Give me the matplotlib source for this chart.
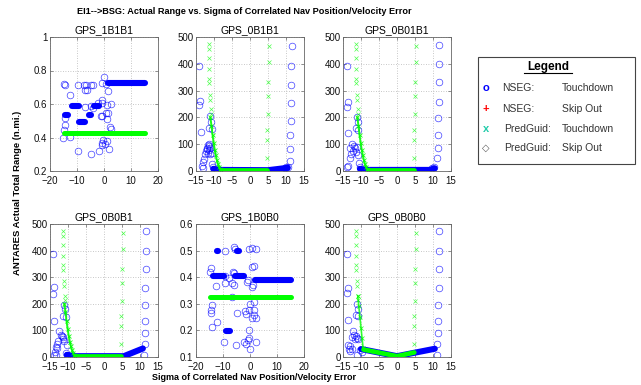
import numpy as np
import matplotlib
matplotlib.use("Agg")
import matplotlib.pyplot as plt
from matplotlib.patches import Rectangle
from matplotlib.lines import Line2D

plt.rcParams['font.family'] = ['Liberation Sans', 'DejaVu Sans']

W, H = 641, 385
BLUE = '#0000ff'
GREEN = '#00ff00'
EDGE = '#666666'

titles = ["GPS_1B1B1", "GPS_0B1B1", "GPS_0B01B1", "GPS_0B0B1", "GPS_1B0B0", "GPS_0B0B0"]

########## GPS_1B1B1 (normalised range)
p1_circ_x = [-14.9, -14.3, -7.3, -6.6, -4.9, -4.2, -9.6, -7.1, -6.3, 0.0, -0.6, 1.6, 0.9,
             -12.6, -15.2, -15.0, -14.6, -14.4, -12.5, -9.6, -5.0, -1.9, -0.25, 0.4, 1.25,
             -0.6, 1.9, 2.1, 2.6, -0.9, -0.6, 2.5, 1.25, 0.6, 1.5, -1.25, -0.6, -5.0, -6.9,
             1.0, -0.9, -4.0, -2.2]
p1_circ_y = [0.718, 0.716, 0.716, 0.716, 0.712, 0.712, 0.716, 0.684, 0.684, 0.764, 0.728, 0.68, 0.72,
             0.654, 0.40, 0.444, 0.474, 0.514, 0.404, 0.32, 0.30, 0.32, 0.384, 0.364, 0.38,
             0.354, 0.334, 0.46, 0.45, 0.624, 0.608, 0.60, 0.594, 0.544, 0.544, 0.53, 0.526, 0.588, 0.58,
             0.508, 0.368, 0.574, 0.604]
# dense runs: (sigma start, sigma end, range)
p1_blue_runs = [(1.5, 15.0, 0.724), (-11.7, -9.2, 0.586), (-3.6, -1.8, 0.586),
                (-9.3, -7.0, 0.49), (-14.3, -13.2, 0.534), (-5.6, -5.0, 0.534)]
p1_green_runs = [(-15.0, 15.0, 0.424)]

########## GPS_1B0B0 (normalised range)
p5_circ_x = [-14.5, -15.0, -12.7, -14.2, -14.5, -14.5, -14.2, -12.4, -9.3, -6.0, -5.5, -0.25, 0.85,
             2.2, -9.1, -9.1, -7.9, -6.7, -6.1, -6.7, -4.8, -9.45, -5.1, -2.4, -1.45, -0.6, -0.4,
             0.0, 2.2, -1.2, -0.6, 0.6, 1.5, 1.2, 0.85, 1.5, 2.4, 0.0, -0.25, 0.6, -1.8, -1.6,
             1.5, 1.5, -0.4, -6.4, -5.8]
p5_circ_y = [0.435, 0.42, 0.366, 0.294, 0.277, 0.265, 0.214, 0.23, 0.5, 0.515, 0.505, 0.505, 0.51,
             0.507, 0.406, 0.378, 0.397, 0.378, 0.37, 0.325, 0.265, 0.157, 0.144, 0.157, 0.15, 0.163, 0.172,
             0.131, 0.157, 0.382, 0.389, 0.44, 0.442, 0.372, 0.365, 0.258, 0.246, 0.3, 0.277, 0.246, 0.273, 0.262,
             0.306, 0.277, 0.2, 0.418, 0.415]
p5_blue_runs = [(2.0, 15.0, 0.391), (-13.7, -9.8, 0.405), (-5.6, -2.1, 0.405),
                (-8.8, -7.4, 0.199), (-12.3, -11.7, 0.5), (-4.8, -4.2, 0.5)]
p5_green_runs = [(-15.0, 15.0, 0.326)]

########## PredGuid columns shared by the four range panels
pred_left_x = [-11.5, -11.5, -11.4, -11.4, -11.3, -11.3, -11.1, -11.1, -10.9, -10.8]
pred_left_y = [473, 455, 422, 381, 345, 327, 284, 266, 230, 213]
pred_right_x = [5.2, 5.2, 5.1, 5.0, 4.9, 4.8, 4.8, 4.7]
pred_right_y = [465, 405, 331, 278, 212, 153, 116, 50]
pred_desc_x = [-11.0, -10.7, -10.4, -10.1, -9.8, -9.5, -9.2, -8.9, -8.6, -8.3, -8.0]
pred_desc_y = [200, 168, 135, 105, 80, 58, 40, 26, 15, 8, 5]
pred_flat_x = [-8.0, 4.8]
pred_flat_y = [5, 5]

########## GPS_0B1B1
p2_circ_x = [-14.07, -13.89, -14.07, -13.70, -13.43, -13.15, -12.96, -12.69, -12.5, -12.22, -12.04,
             -11.76, -11.48, -11.30, -11.85, -11.48, -11.11, -11.67, -11.11, -10.65, -11.11, -10.93,
             -11.30, -10.56, -10.65, -10.19,
             11.6, 11.5, 11.5, 11.4, 11.3, 11.2, 11.1, 11.0, 9.6, 10.1, 10.6]
p2_circ_y = [390, 262, 246, 146, 19, 11, 34, 46, 62, 75, 87, 96, 100, 94, 81, 79, 84, 66, 62, 66,
             204, 184, 159, 156, 27, 16,
             466, 391, 322, 252, 187, 133, 82, 38, 12, 14, 15]
p2_blue_x = [-10.2, -8.0, 5.0, 7.5, 10.5]
p2_blue_y = [8, 4, 3, 7, 12]

########## GPS_0B01B1
p3_circ_x = [-13.98, -13.7, -13.98, -13.5, -11.2, -10.9, -11.5, -10.7, -13.1, -12.4, -11.9, -11.7,
             -11.2, -12.1, -11.5, -12.8, -13.1, -13.5, -14.0, -10.6, -10.3, -10.7,
             11.7, 11.7, 11.6, 11.6, 11.5, 11.3, 11.3, 11.1, 9.8, 10.3]
p3_circ_y = [391, 259, 237, 140, 202, 184, 159, 154, 87, 100, 94, 84, 91, 75, 71, 62, 50, 19, 15,
             31, 16, 59,
             472, 400, 331, 259, 196, 134, 87, 50, 12, 14]
p3_blue_x = [-10.3, -8.0, 9.0, 10.5]
p3_blue_y = [8, 4, 4, 10]

########## GPS_0B0B1
p4_circ_x = [-14.1, -13.9, -14.3, -13.9, -11.1, -10.8, -11.5, -10.6, -12.4, -12.0, -11.8, -11.3,
             -11.5, -11.1, -12.7, -13.1, -13.3, -12.96, -13.6, -13.9, -13.3, -10.4, -10.6, -10.2,
             11.7, 11.7, 11.7, 11.5, 11.5, 11.3, 11.3, 11.3, 11.2]
p4_circ_y = [388, 265, 238, 134, 196, 179, 156, 150, 96, 84, 79, 75, 66, 62, 62, 50, 37, 34, 19,
             6, 6, 44, 15, 9,
             472, 400, 331, 259, 196, 134, 91, 50, 6]
p4_blue_x = [-10.3, -8.0, 5.5, 10.8]
p4_blue_y = [8, 3, 3, 32]

########## GPS_0B0B0
p6_circ_x = [-14.0, -13.7, -14.0, -13.5, -11.1, -10.9, -11.5, -10.7, -12.1, -11.9, -11.5, -11.2,
             -11.7, -10.9, -12.4, -13.5, -13.1, -13.3, -13.1, -12.6, -10.3, -9.8, -11.0,
             11.8, 11.8, 11.7, 11.6, 11.5, 11.4, 11.3, 11.2, 11.1]
p6_circ_y = [388, 259, 241, 140, 200, 181, 159, 154, 96, 84, 79, 71, 66, 66, 75, 46, 41, 31, 21,
             29, 25, 19, 6,
             472, 400, 331, 259, 197, 137, 90, 47, 7]
p6_blue_x = [-10.0, 0.0, 10.5]
p6_blue_y = [30, 3, 31]
p6_desc_x = [-10.9, -10.6, -10.3, -10.0, -9.7, -9.4]
p6_desc_y = [230, 190, 150, 110, 70, 32]
p6_green_x = [-9.3, 0.0, 4.8]
p6_green_y = [28, 3, 17]

# axes boxes in pixels
col_left = [50, 196, 343]
col_w = 108
row_top = [37, 224]
row_bot = [171, 357]


def make_ax(fig, r, c):
    l = col_left[c]
    ax = fig.add_axes([l / W, 1 - row_bot[r] / H, col_w / W, (row_bot[r] - row_top[r]) / H])
    for s in ax.spines.values():
        s.set_color(EDGE)
        s.set_linewidth(0.6)
    ax.tick_params(direction='in', length=2.5, width=0.5, top=True, right=True,
                   labelsize=7, colors=EDGE, labelcolor='#111111')
    ax.tick_params(axis='x', pad=3.6)
    ax.tick_params(axis='y', pad=1.8)
    ax.grid(True, color='#b5b5b5', linestyle=(0, (1, 2)), linewidth=0.6)
    ax.set_axisbelow(True)
    return ax


def circles(ax, x, y):
    ax.plot(x, y, 'o', ls='none', mfc='none', mec=BLUE, ms=4.8, mew=0.5, alpha=0.75)


def flat_runs(ax, runs, color, lw):
    for x0, x1, yv in runs:
        ax.plot([x0, x1], [yv, yv], '-', color=color, lw=lw, solid_capstyle='round')


fig = plt.figure(figsize=(W / 100, H / 100), dpi=100)

# normalised panels
for (r, c), title, cx, cy, bruns, gruns, ylim, yticks in [
        ((0, 0), titles[0], p1_circ_x, p1_circ_y, p1_blue_runs, p1_green_runs, (0.2, 1.0), [0.2, 0.4, 0.6, 0.8, 1]),
        ((1, 1), titles[4], p5_circ_x, p5_circ_y, p5_blue_runs, p5_green_runs, (0.1, 0.6), [0.1, 0.2, 0.3, 0.4, 0.5, 0.6])]:
    ax = make_ax(fig, r, c)
    flat_runs(ax, bruns, BLUE, 4.4)
    circles(ax, cx, cy)
    flat_runs(ax, gruns, GREEN, 3.6)
    ax.set_xlim(-20, 20)
    ax.set_xticks([-20, -10, 0, 10, 20])
    ax.set_ylim(*ylim)
    ax.set_yticks(yticks)
    ax.set_yticklabels([f"{v:g}" for v in yticks])
    ax.set_title(title, fontsize=7.5, pad=2.5)

# range panels
for (r, c), title, cx, cy, bx, by in [
        ((0, 1), titles[1], p2_circ_x, p2_circ_y, p2_blue_x, p2_blue_y),
        ((0, 2), titles[2], p3_circ_x, p3_circ_y, p3_blue_x, p3_blue_y),
        ((1, 0), titles[3], p4_circ_x, p4_circ_y, p4_blue_x, p4_blue_y),
        ((1, 2), titles[5], p6_circ_x, p6_circ_y, p6_blue_x, p6_blue_y)]:
    ax = make_ax(fig, r, c)
    ax.plot(bx, by, '-', color=BLUE, lw=4.4, solid_capstyle='round', solid_joinstyle='round')
    circles(ax, cx, cy)
    ax.plot(pred_left_x, pred_left_y, 'x', ls='none', color=GREEN, ms=3, mew=0.5, alpha=0.7)
    ax.plot(pred_right_x, pred_right_y, 'x', ls='none', color=GREEN, ms=3, mew=0.5, alpha=0.7)
    if title == "GPS_0B0B0":
        ax.plot(p6_desc_x, p6_desc_y, 'x-', color=GREEN, ms=3, mew=0.6, lw=1.2, alpha=0.8)
        ax.plot(p6_green_x, p6_green_y, '-', color=GREEN, lw=3.4, solid_capstyle='round', solid_joinstyle='round')
    else:
        ax.plot(pred_desc_x, pred_desc_y, 'x-', color=GREEN, ms=3, mew=0.6, lw=1.4, alpha=0.9)
        ax.plot(pred_flat_x, pred_flat_y, '-', color=GREEN, lw=3.4, solid_capstyle='round')
    ax.set_xlim(-15, 15)
    ax.set_xticks([-15, -10, -5, 0, 5, 10, 15])
    ax.set_ylim(0, 500)
    ax.set_yticks([0, 100, 200, 300, 400, 500])
    ax.set_title(title, fontsize=7.5, pad=2.5)

fig.text(244 / W, 1 - 12 / H, "EI1-->BSG: Actual Range vs. Sigma of Correlated Nav Position/Velocity Error",
         ha='center', va='center', fontsize=6.6, fontweight='bold')
fig.text(18 / W, 1 - 193 / H, "ANTARES Actual Total Range (n.mi.)", rotation=90,
         ha='center', va='center', fontsize=6.8, fontweight='bold')
fig.text(254 / W, 1 - 378 / H, "Sigma of Correlated Nav Position/Velocity Error",
         ha='center', va='center', fontsize=6.5, fontweight='bold')

# legend box
fig.patches.append(Rectangle((478 / W, 1 - 164 / H), 157 / W, 107 / H, transform=fig.transFigure,
                             fill=True, facecolor='white', edgecolor='#444444', lw=0.8))
fig.text(548 / W, 1 - 67 / H, "Legend", ha='center', va='center', fontsize=8.5, fontweight='bold')
fig.lines.append(Line2D([524 / W, 572 / W], [1 - 73 / H, 1 - 73 / H], transform=fig.transFigure,
                        color='black', lw=0.8))
leg_rows = [88, 109, 129, 148]
leg_marks = ["o", "+", "x", "\u25c7"]
leg_colors = [BLUE, 'red', '#22ccaa', '#555555']
leg_a = ["NSEG:", "NSEG:", "PredGuid:", "PredGuid:"]
leg_b = ["Touchdown", "Skip Out", "Touchdown", "Skip Out"]
for yy, m, col, a, b in zip(leg_rows, leg_marks, leg_colors, leg_a, leg_b):
    fig.text(486 / W, 1 - yy / H, m, ha='center', va='center', color=col,
             fontsize=7 if m == "\u25c7" else 8, fontweight='bold')
    fig.text((502 if a == "NSEG:" else 504) / W, 1 - yy / H, a, ha='left', va='center',
             fontsize=7.5, color='#333333')
    fig.text(562 / W, 1 - yy / H, b, ha='left', va='center', fontsize=7.5, color='#333333')

fig.savefig("out.png", dpi=100)
